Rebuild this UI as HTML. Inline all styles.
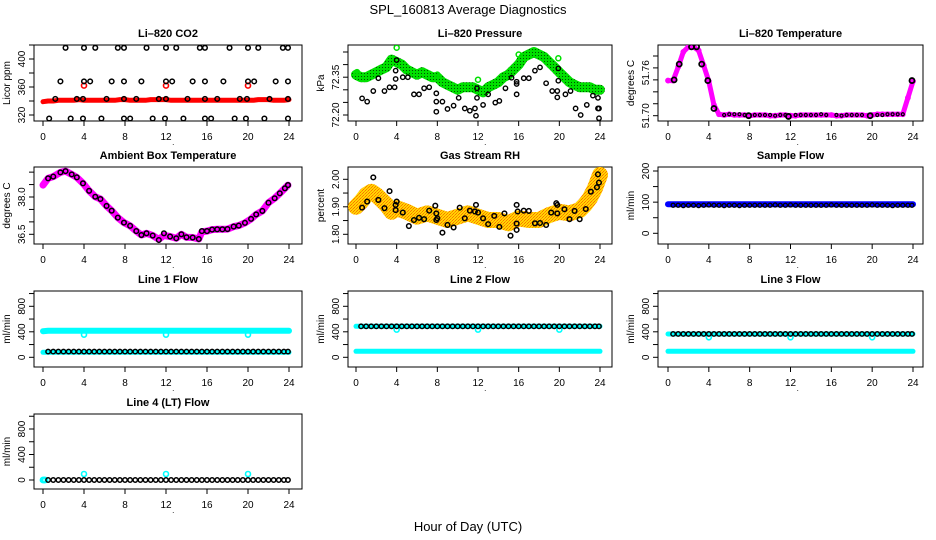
<!DOCTYPE html>
<html><head><meta charset="utf-8">
<style>
html,body{margin:0;padding:0;background:#fff;}
svg{display:block;font-family:"Liberation Sans",sans-serif;}
</style></head>
<body>
<svg id="chart" width="936" height="540" viewBox="0 0 936 540" xmlns="http://www.w3.org/2000/svg">
<defs>
<pattern id="greenPat" width="3" height="3" patternUnits="userSpaceOnUse"><rect width="3" height="3" fill="#00e000"/><rect x="1" y="1" width="1" height="1" fill="#005000"/></pattern>
<pattern id="orangePat" width="3" height="3" patternUnits="userSpaceOnUse"><rect width="3" height="3" fill="#ffd800"/><rect width="1" height="1" fill="#ff7000"/><rect x="2" y="1" width="1" height="1" fill="#ff7000"/><rect x="1" y="2" width="1" height="1" fill="#ff9000"/></pattern>
</defs>
<text x="468" y="14" text-anchor="middle" font-size="13">SPL_160813  Average Diagnostics</text>
<text x="468" y="531" text-anchor="middle" font-size="13">Hour of Day (UTC)</text>
</svg>
<script>
// ---------- data ----------
const H = [0,0.5,1,1.5,2,2.5,3,3.5,4,4.5,5,5.5,6,6.5,7,7.5,8,8.5,9,9.5,10,10.5,11,11.5,12,12.5,13,13.5,14,14.5,15,15.5,16,16.5,17,17.5,18,18.5,19,19.5,20,20.5,21,21.5,22,22.5,23,23.5,24];
const HB = [0.5,1,1.5,2,2.5,3,3.5,4,4.5,5,5.5,6,6.5,7,7.5,8,8.5,9,9.5,10,10.5,11,11.5,12,12.5,13,13.5,14,14.5,15,15.5,16,16.5,17,17.5,18,18.5,19,19.5,20,20.5,21,21.5,22,22.5,23,23.5,23.9];
const xTicks = [0,4,8,12,16,20,24];

// CO2
const co2Red = [339,340,340,341,341,341,341,342,341,341,341,341,341,341,341,342,342,341,341,341,341,342,342,342,342,341,341,341,341,341,341,341,341,341,341,341,341,341,341,341,341,341,342,342,342,341,341,341,342];
const co2RedOutH = [4,12,20];
const co2RedOutV = [362,362,362];
const co2BlkH = [2.2,4,5.1,7.3,7.9,10.1,12,13,15.3,15.8,18.2,20,21,23.4,23.9, 1.7,4,4.6,6.7,7.9,9.6,12,12.6,14.6,15.8,17.6,20,20.6,22.7,23.9, 1.2,3.3,3.9,6.2,7.9,9.1,11.3,12,14.1,15.8,17,19.2,19.9,22.1,23.9, 0.6,2.7,3.9,5.7,7.9,8.5,10.7,11.9,13.7,15.8,16.4,18.7,19.8,21.6,23.9];
const co2BlkV = [416,416,416,416,416,416,416,416,416,416,416,416,416,416,416, 368,368,368,368,368,368,368,368,368,368,368,368,368,368,368, 343,343,343,343,343,343,343,343,343,343,343,343,343,343,343, 315,315,315,315,315,315,315,315,315,315,315,315,315,315,315];

// Pressure
const presGreen = [72.36,72.35,72.35,72.36,72.37,72.38,72.39,72.42,72.41,72.40,72.38,72.37,72.36,72.37,72.36,72.35,72.35,72.33,72.32,72.31,72.30,72.31,72.31,72.31,72.30,72.29,72.31,72.32,72.33,72.35,72.36,72.38,72.40,72.43,72.44,72.45,72.44,72.43,72.41,72.39,72.37,72.35,72.33,72.32,72.31,72.31,72.31,72.30,72.30];
const presGreenOutH = [0.1,4,8,12,16,19.9];
const presGreenOutV = [72.37,72.467,72.36,72.34,72.44,72.425];
const presBlkH = [0.6,1.1,1.7,2.2,2.8,3.3,3.8,3.9,3.9,4,4.6,5.1,5.7,6.2,6.7,7.2,7.9,7.9,7.9,8.5,9,9.6,10.1,10.7,11.2,11.7,11.8,11.9,11.9,12.5,13,13.7,14.1,14.7,15.3,15.8,15.8,15.8,16.5,17,17.6,18.1,18.7,19.3,19.8,19.8,19.9,19.9,20.6,21.1,21.6,22.1,22.7,23.3,23.8,23.8,23.9,23.9];
const presBlkV = [72.266,72.253,72.295,72.346,72.295,72.310,72.310,72.343,72.376,72.418,72.350,72.350,72.282,72.282,72.306,72.310,72.286,72.253,72.213,72.253,72.224,72.237,72.268,72.226,72.217,72.226,72.197,72.306,72.268,72.240,72.282,72.249,72.256,72.306,72.348,72.323,72.332,72.282,72.346,72.346,72.376,72.389,72.326,72.295,72.295,72.270,72.385,72.336,72.282,72.295,72.226,72.200,72.240,72.277,72.268,72.226,72.226,72.187];

// Temperature
const tempMag = [51.749,51.749,51.768,51.789,51.796,51.796,51.791,51.770,51.748,51.715,51.702,51.701,51.702,51.701,51.701,51.701,51.700,51.701,51.701,51.701,51.700,51.700,51.701,51.701,51.700,51.700,51.701,51.701,51.701,51.701,51.701,51.701,51.701,51.700,51.700,51.701,51.701,51.701,51.701,51.700,51.701,51.702,51.702,51.702,51.702,51.702,51.702,51.725,51.748];
const tempBlkH = [0.6,1.1,2.3,2.8,3.3,3.9,4.5,7.9,11.8,19.8,23.9];
const tempBlkV = [51.750,51.772,51.796,51.796,51.772,51.749,51.710,51.700,51.699,51.700,51.749];
const tempSmallH = [5.5,6,6.5,7,7.5,8.5,9,9.5,10,10.5,11,11.5,12.5,13,13.5,14,14.5,15,15.5,16.5,17,17.5,18,18.5,19,20.5,21,21.5,22,22.5,23];
const tempSmallV = [51.701,51.702,51.702,51.702,51.701,51.701,51.701,51.701,51.701,51.700,51.701,51.701,51.701,51.701,51.701,51.701,51.701,51.702,51.701,51.701,51.700,51.701,51.701,51.701,51.701,51.701,51.701,51.702,51.702,51.702,51.702];

// Ambient
const ambH = [0.5,1,1.7,2.2,2.8,3.3,3.9,4.5,5.1,5.6,6.2,6.7,7.3,7.9,8.5,9.1,9.6,10.1,10.7,11.3,11.8,12.4,13,13.5,14,14.6,15.2,15.5,16,16.5,17,17.5,18,18.6,19.1,19.7,20.3,20.8,21.4,22,22.6,23.1,23.6,23.9];
const ambBlk = [38.75,38.82,38.99,39.04,38.91,38.79,38.55,38.25,38.01,37.92,37.64,37.45,37.17,36.97,36.84,36.63,36.47,36.54,36.45,36.27,36.54,36.41,36.34,36.50,36.38,36.37,36.31,36.63,36.63,36.69,36.70,36.70,36.71,36.81,36.85,36.96,37.12,37.30,37.44,37.77,37.95,38.15,38.35,38.48];
const ambMagH = [0,0.5,1,1.7,2.2,2.8,3.3,3.9,4.5,5.1,5.6,6.2,6.7,7.3,7.9,8.5,9.1,9.6,10.1,10.7,11.3,11.8,12.4,13,13.5,14,14.6,15.2,15.5,16,16.5,17,17.5,18,18.6,19.1,19.7,20.3,20.8,21.4,22,22.6,23.1,23.6,23.9];
const ambMag = [38.48,38.75,38.82,38.99,39.04,38.91,38.79,38.55,38.25,38.01,37.92,37.64,37.45,37.17,36.97,36.84,36.63,36.47,36.54,36.45,36.30,36.45,36.41,36.34,36.50,36.38,36.37,36.31,36.60,36.63,36.69,36.70,36.70,36.71,36.81,36.85,36.96,37.12,37.30,37.44,37.77,37.95,38.15,38.35,38.48];

// Gas stream RH
const rhBandH = [0,0.5,1,1.5,2,2.5,3,3.5,4,5,6,7,8,9,10,11,12,13,14,15,16,17,18,19,20,21,22,22.5,23,23.5,24];
const rhBand = [1.900,1.919,1.943,1.955,1.943,1.925,1.907,1.882,1.895,1.882,1.864,1.876,1.864,1.852,1.864,1.876,1.864,1.852,1.852,1.840,1.858,1.852,1.852,1.870,1.882,1.876,1.888,1.907,1.931,1.967,2.016];
const rhBlkH = [0.6,1.1,1.7,2.2,2.8,3.3,3.9,3.9,4,4.6,5.2,5.7,6.2,6.7,7.2,7.8,7.9,7.9,8,8.5,9,9.6,10.2,10.7,11.2,11.7,11.8,12,12.5,13,13.6,14.1,14.6,15.2,15.8,15.8,15.8,15.9,16.5,17,17.6,18.1,18.7,19.2,19.7,19.8,19.8,20.5,21,21.5,22,22.6,23.1,23.7,23.8,23.9];
const rhBlkV = [1.897,1.919,2.007,1.925,1.895,1.957,1.888,1.907,1.919,1.879,1.830,1.852,1.860,1.855,1.886,1.904,1.876,1.852,1.858,1.806,1.834,1.825,1.897,1.858,1.886,1.883,1.907,1.879,1.858,1.837,1.867,1.827,1.876,1.795,1.907,1.839,1.816,1.883,1.886,1.885,1.840,1.841,1.834,1.879,1.913,1.907,1.876,1.891,1.855,1.885,1.855,1.892,1.955,1.971,2.018,1.988];

// Flows
const sampleBlue = [93,93,93,93,93,93,93,93,93,93,93,93,93,93,93,93,93,93,93,93,93,93,93,93,93,93,93,93,93,93,93,93,93,93,93,93,93,93,93,93,93,93,93,93,93,93,93,93,93];
const sampleBlk = [90,90,89,90,90,89,90,91,90,90,89,90,90,89,90,90,90,90,90,90,91,90,90,91,90,90,90,90,90,90,90,91,90,90,90,90,90,90,90,91,90,90,90,89,90,90,90,90];
const l1CyanHi = [410,415,417,417,417,417,417,417,417,417,417,417,417,417,417,417,417,417,417,417,417,417,417,417,417,417,417,417,417,417,417,417,417,417,417,417,417,417,417,417,417,417,417,417,417,417,417,417,415];
const l1CyanLo = [78,78,78,78,78,78,78,78,78,78,78,78,78,78,78,78,78,78,78,78,78,78,78,78,78,78,78,78,78,78,78,78,78,78,78,78,78,78,78,78,78,78,78,78,78,78,78,78,78];
const l1Blk = [90,90,90,90,90,90,90,90,90,90,90,90,90,90,90,90,90,90,90,90,90,90,90,90,90,90,90,90,90,90,90,90,90,90,90,90,90,90,90,90,90,90,90,90,90,90,90,90];
const l1OutV = [355,355,355];
const l2CyanHi = [486,486,486,486,486,486,486,486,486,486,486,486,486,486,486,486,486,486,486,486,486,486,486,486,486,486,486,486,486,486,486,486,486,486,486,486,486,486,486,486,486,486,486,486,486,486,486,486,486];
const l2CyanLo = [94,94,94,94,94,94,94,94,94,94,94,94,94,94,94,94,94,94,94,94,94,94,94,94,94,94,94,94,94,94,94,94,94,94,94,94,94,94,94,94,94,94,94,94,94,94,94,94,94];
const l2Blk = [486,486,486,486,486,486,486,486,486,486,486,486,486,486,486,486,486,486,486,486,486,486,486,486,486,486,486,486,486,486,486,486,486,486,486,486,486,486,486,486,486,486,486,486,486,486,486,486];
const l2OutV = [434,434,434];
const l3CyanHi = [366,366,366,366,366,366,366,366,366,366,366,366,366,366,366,366,366,366,366,366,366,366,366,366,366,366,366,366,366,366,366,366,366,366,366,366,366,366,366,366,366,366,366,366,366,366,366,366,366];
const l3CyanLo = [94,94,94,94,94,94,94,94,94,94,94,94,94,94,94,94,94,94,94,94,94,94,94,94,94,94,94,94,94,94,94,94,94,94,94,94,94,94,94,94,94,94,94,94,94,94,94,94,94];
const l3Blk = [366,366,366,366,366,366,366,366,366,366,366,366,366,366,366,366,366,366,366,366,366,366,366,366,366,366,366,366,366,366,366,366,366,366,366,366,366,366,366,366,366,366,366,366,366,366,366,366];
const l3OutV = [314,314,314];
const l4Blk = [0,0,0,0,0,0,0,0,0,0,0,0,0,0,0,0,0,0,0,0,0,0,0,0,0,0,0,0,0,0,0,0,0,0,0,0,0,0,0,0,0,0,0,0,0,0,0,0];
const l4CyanStartH = [0,0.1,0.2];
const l4CyanStartV = [0,0,0];
const l4OutV = [94,94,94];
const outH = [4,12,20];

// ---------- layout ----------
const svg = document.getElementById('chart');
const NS = 'http://www.w3.org/2000/svg';
const colL = [34,348,658], colR = [302,612,923], colX0 = [43,356,668], colX24 = [289,600,913];
const rowT = [45,167,291,414], rowB = [121,244,367,489];

function el(tag, attrs, parent){
  const e = document.createElementNS(NS, tag);
  for (const k in attrs) e.setAttribute(k, attrs[k]);
  (parent||svg).appendChild(e);
  return e;
}

function makePanel(name, title, ylab, col, row, v0, y0, v1, y1, ticks, labVals, labTxt){
  const g = el('g', {});
  
  
  const L = colL[col], R = colR[col], T = rowT[row], B = rowB[row];
  const xs = h => colX0[col] + h / 24 * (colX24[col] - colX0[col]);
  const ys = v => y0 + (v - v0) * (y1 - y0) / (v1 - v0);
  const t = el('text', {x:(L+R)/2, y:T-8, 'text-anchor':'middle', 'font-size':'11', 'font-weight':'bold'}, g);
  t.textContent = title;
  
  
  const yl = el('text', {x:0, y:0, transform:`translate(${L-24},${(T+B)/2}) rotate(-90)`, 'text-anchor':'middle', 'font-size':'10'}, g);
  yl.textContent = ylab;
  
  
  const box = el('rect', {x:L, y:T, width:R-L, height:B-T, fill:'none', stroke:'#000', 'stroke-width':'1'}, g);
  
  
  xTicks.forEach(h => {
    const x = xs(h);
    el('line', {x1:x, x2:x, y1:B, y2:B+5, stroke:'#000'}, g);
    const lt = el('text', {x:x, y:B+19, 'text-anchor':'middle', 'font-size':'10'}, g);
    lt.textContent = h;
    
    
  });
  const dot = el('text', {x:xs(12.6), y:B+24, 'font-size':'8'}, g);
  dot.textContent = '.';
  ticks.forEach(v => {
    const y = ys(v);
    el('line', {x1:L-5, x2:L, y1:y, y2:y, stroke:'#000'}, g);
  });
  labVals.forEach((v, i) => {
    const y = ys(v);
    const lt = el('text', {x:0, y:0, transform:`translate(${L-9},${y}) rotate(-90)`, 'text-anchor':'middle', 'font-size':'10'}, g);
    lt.textContent = labTxt[i];
    
    
  });
  const clipId = 'clip-' + name;
  const cp = el('clipPath', {id:clipId}, g);
  el('rect', {x:L, y:T, width:R-L, height:B-T}, cp);
  const data = el('g', {'clip-path':`url(#${clipId})`}, g);
  return {xs, ys, g:data};
}

function band(p, hs, vs, stroke, w, nm){
  const pts = hs.map((h, i) => p.xs(h).toFixed(1) + ',' + p.ys(vs[i]).toFixed(1)).join(' ');
  const pl = el('polyline', {points:pts, fill:'none', stroke:stroke, 'stroke-width':w, 'stroke-linejoin':'round', 'stroke-linecap':'round'}, p.g);
  
  
}
function pts(p, hs, vs, color, r, sw, nm){
  hs.forEach((h, i) => {
    const c = el('circle', {cx:p.xs(h), cy:p.ys(vs[i]), r:r, fill:'none', stroke:color, 'stroke-width':sw}, p.g);
    
    
  });
}

// Panel 1: CO2
let p = makePanel('co2', 'Li\u2013820 CO2', 'Licor ppm', 0, 0, 320, 115, 400, 59, [320,340,360,380,400,420], [320,360,400], ['320','360','400']);
band(p, H, co2Red, '#ff0000', 5, 'co2-red-series');
pts(p, co2RedOutH, co2RedOutV, '#ff0000', 2.5, 1.6, 'co2-red-point');
pts(p, co2BlkH, co2BlkV, '#000', 2.3, 1.5, 'co2-black-point');

// Panel 2: Pressure
p = makePanel('pressure', 'Li\u2013820 Pressure', 'kPa', 1, 0, 72.20, 115, 72.35, 77.2, [72.20,72.25,72.30,72.35,72.40,72.45], [72.20,72.35], ['72.20','72.35']);
band(p, H, presGreen, 'url(#greenPat)', 10, 'pressure-green-series');
pts(p, presGreenOutH, presGreenOutV, '#00e000', 2.5, 1.5, 'pressure-green-point');
pts(p, presBlkH, presBlkV, '#000', 2.2, 1.4, 'pressure-black-point');

// Panel 3: Temperature
p = makePanel('temperature', 'Li\u2013820 Temperature', 'degrees C', 2, 0, 51.70, 115.7, 51.76, 72.7, [51.70,51.7167,51.7333,51.75,51.7667,51.7833], [51.70,51.76], ['51.70','51.76']);
band(p, H, tempMag, '#ff00ff', 5, 'temperature-magenta-series');
pts(p, H, tempMag, '#ff00ff', 2.2, 1.4, 'temperature-magenta-point');
pts(p, tempSmallH, tempSmallV, '#000', 1.5, 1.2, 'temperature-small-black-point');
pts(p, tempBlkH, tempBlkV, '#000', 2.5, 1.8, 'temperature-black-point');

// Panel 4: Ambient
p = makePanel('ambient', 'Ambient Box Temperature', 'degrees C', 0, 1, 38.0, 197, 36.5, 234.3, [36.5,37.0,37.5,38.0,38.5,39.0], [36.5,38.0], ['36.5','38.0']);
band(p, ambMagH, ambMag, '#ff00ff', 7, 'ambient-magenta-series');
pts(p, ambH, ambBlk, '#000', 2.3, 1.5, 'ambient-black-point');

// Panel 5: Gas RH
p = makePanel('gas-rh', 'Gas Stream RH', 'percent', 1, 1, 1.80, 234.3, 2.00, 179.3, [1.80,1.85,1.90,1.95,2.00], [1.80,1.90,2.00], ['1.80','1.90','2.00']);
band(p, rhBandH, rhBand, 'url(#orangePat)', 16, 'rh-orange-series');
pts(p, rhBlkH, rhBlkV, '#000', 2.3, 1.5, 'rh-black-point');

// Panel 6: Sample flow
p = makePanel('sample-flow', 'Sample Flow', 'ml/min', 2, 1, 0, 233.3, 200, 171, [0,50,100,150,200], [0,100,200], ['0','100','200']);
band(p, H, sampleBlue, '#0000ff', 6, 'sample-blue-series');
pts(p, HB, sampleBlk, '#000', 2, 1.3, 'sample-black-point');

// Flow panels
const flowTicks = [0,200,400,600,800,1000];
p = makePanel('line1-flow', 'Line 1 Flow', 'ml/min', 0, 2, 0, 357.3, 800, 306.3, flowTicks, [0,400,800], ['0','400','800']);
band(p, H, l1CyanHi, '#00ffff', 6, 'line1-cyan-high');
band(p, H, l1CyanLo, '#00ffff', 5, 'line1-cyan-low');
pts(p, outH, l1OutV, '#00ffff', 2.5, 1.6, 'line1-cyan-point');
pts(p, HB, l1Blk, '#000', 2.2, 1.5, 'line1-black-point');

p = makePanel('line2-flow', 'Line 2 Flow', 'ml/min', 1, 2, 0, 357.3, 800, 306.3, flowTicks, [0,400,800], ['0','400','800']);
band(p, H, l2CyanHi, '#00ffff', 5, 'line2-cyan-high');
band(p, H, l2CyanLo, '#00ffff', 5, 'line2-cyan-low');
pts(p, outH, l2OutV, '#00ffff', 2.5, 1.6, 'line2-cyan-point');
pts(p, HB, l2Blk, '#000', 2.2, 1.5, 'line2-black-point');

p = makePanel('line3-flow', 'Line 3 Flow', 'ml/min', 2, 2, 0, 357.3, 800, 306.3, flowTicks, [0,400,800], ['0','400','800']);
band(p, H, l3CyanHi, '#00ffff', 5, 'line3-cyan-high');
band(p, H, l3CyanLo, '#00ffff', 5, 'line3-cyan-low');
pts(p, outH, l3OutV, '#00ffff', 2.5, 1.6, 'line3-cyan-point');
pts(p, HB, l3Blk, '#000', 2.2, 1.5, 'line3-black-point');

p = makePanel('line4-flow', 'Line 4 (LT) Flow', 'ml/min', 0, 3, 0, 480, 800, 429, flowTicks, [0,400,800], ['0','400','800']);
pts(p, l4CyanStartH, l4CyanStartV, '#00ffff', 2.5, 1.8, 'line4-cyan-start');
pts(p, outH, l4OutV, '#00ffff', 2.5, 1.6, 'line4-cyan-point');
pts(p, HB, l4Blk, '#000', 2.2, 1.5, 'line4-black-point');
</script>
</body></html>
